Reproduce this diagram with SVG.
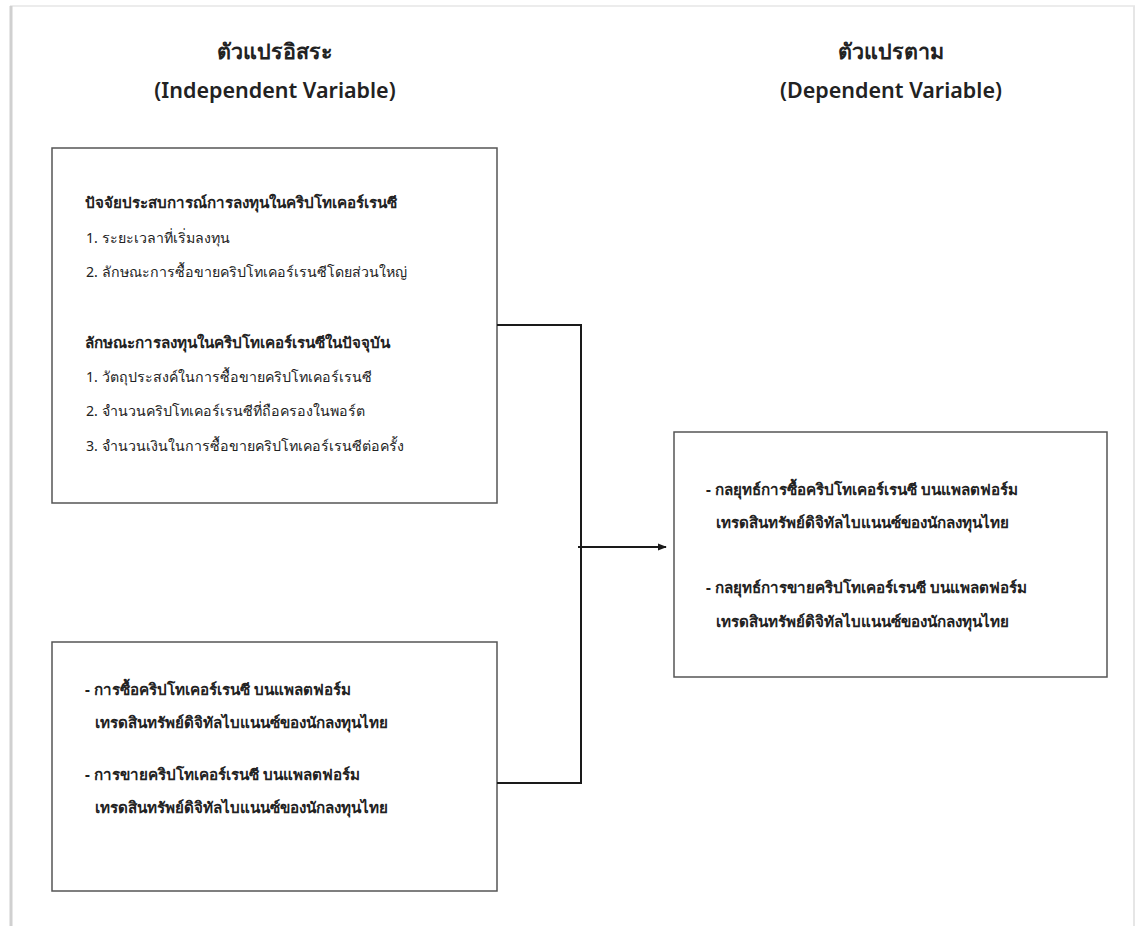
<svg xmlns="http://www.w3.org/2000/svg" width="1135" height="926" viewBox="0 0 1135 926">
<style>
  text { font-family: "Noto Sans", "DejaVu Sans", "Liberation Sans", sans-serif; fill: #222; }
  .title { font-size: 21.5px; font-weight: 600; text-anchor: middle; }
  .head { font-size: 15.2px; font-weight: bold; }
  .item { font-size: 14.2px; }
  .box { fill: #fff; stroke: #555; stroke-width: 1.5; }
  .conn { fill: none; stroke: #1a1a1a; stroke-width: 2; }
</style>
<defs>
  <marker id="arrow" viewBox="0 0 10 10" refX="9" refY="5" markerWidth="9" markerHeight="9" orient="auto" markerUnits="userSpaceOnUse">
    <path d="M0,1 L10,5 L0,9 z" fill="#1a1a1a"/>
  </marker>
</defs>
<rect x="0" y="0" width="1135" height="926" fill="#fff"/>
<g id="frame">
  <line x1="10" y1="6" x2="1135" y2="6" stroke="#ececec" stroke-width="2"/>
  <line x1="11" y1="6" x2="11" y2="926" stroke="#d0d0d0" stroke-width="3"/>
  <line x1="1134" y1="6" x2="1134" y2="926" stroke="#e6e6e6" stroke-width="2"/>
</g>
<g id="title-independent">
  <text class="title" x="275" y="59">ตัวแปรอิสระ</text>
  <text class="title" x="275" y="98">(Independent Variable)</text>
</g>
<g id="title-dependent">
  <text class="title" x="891" y="59">ตัวแปรตาม</text>
  <text class="title" x="891" y="98">(Dependent Variable)</text>
</g>
<g id="box-factors">
  <rect class="box" x="52" y="148" width="445" height="355"/>
  <text class="head" x="85" y="208">ปัจจัยประสบการณ์การลงทุนในคริปโทเคอร์เรนซี</text>
  <text class="item" x="86" y="243">1. ระยะเวลาที่เริ่มลงทุน</text>
  <text class="item" x="86" y="277">2. ลักษณะการซื้อขายคริปโทเคอร์เรนซีโดยส่วนใหญ่</text>
  <text class="head" x="85" y="348">ลักษณะการลงทุนในคริปโทเคอร์เรนซีในปัจจุบัน</text>
  <text class="item" x="86" y="382">1. วัตถุประสงค์ในการซื้อขายคริปโทเคอร์เรนซี</text>
  <text class="item" x="86" y="416">2. จำนวนคริปโทเคอร์เรนซีที่ถือครองในพอร์ต</text>
  <text class="item" x="86" y="451">3. จำนวนเงินในการซื้อขายคริปโทเคอร์เรนซีต่อครั้ง</text>
</g>
<g id="box-trading">
  <rect class="box" x="52" y="642" width="445" height="249"/>
  <text class="head" x="85" y="695">- การซื้อคริปโทเคอร์เรนซี บนแพลตฟอร์ม</text>
  <text class="head" x="95" y="728">เทรดสินทรัพย์ดิจิทัลไบแนนซ์ของนักลงทุนไทย</text>
  <text class="head" x="85" y="780">- การขายคริปโทเคอร์เรนซี บนแพลตฟอร์ม</text>
  <text class="head" x="95" y="813">เทรดสินทรัพย์ดิจิทัลไบแนนซ์ของนักลงทุนไทย</text>
</g>
<g id="box-strategy">
  <rect class="box" x="674" y="432" width="433" height="245"/>
  <text class="head" x="706" y="495">- กลยุทธ์การซื้อคริปโทเคอร์เรนซี บนแพลตฟอร์ม</text>
  <text class="head" x="716" y="528">เทรดสินทรัพย์ดิจิทัลไบแนนซ์ของนักลงทุนไทย</text>
  <text class="head" x="706" y="593">- กลยุทธ์การขายคริปโทเคอร์เรนซี บนแพลตฟอร์ม</text>
  <text class="head" x="716" y="627">เทรดสินทรัพย์ดิจิทัลไบแนนซ์ของนักลงทุนไทย</text>
</g>
<g id="connectors">
  <polyline class="conn" points="497,325 581,325 581,783 497,783"/>
  <line class="conn" x1="578" y1="547" x2="666" y2="547" marker-end="url(#arrow)"/>
</g>
</svg>
